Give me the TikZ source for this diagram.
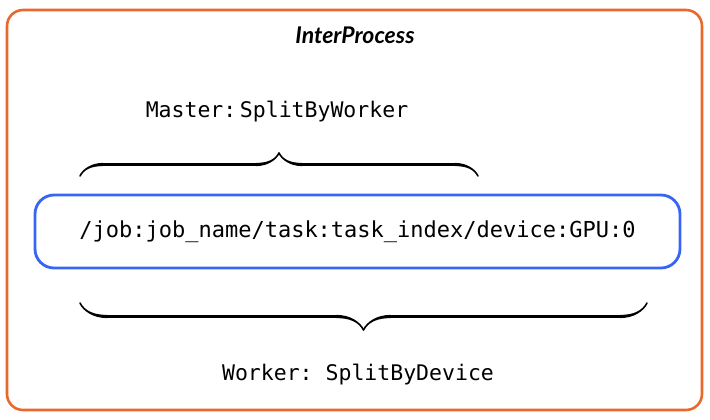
\documentclass[tikz,border=0pt]{standalone}
\usepackage{fontspec}
\setsansfont{Lato}
\setmonofont{DejaVu Sans Mono}
\usepackage{tikz}
\usetikzlibrary{positioning,decorations.pathreplacing,calligraphy,calc}
\definecolor{procedge}{HTML}{E8692B}
\definecolor{pathedge}{HTML}{3766F4}

\begin{document}
\begin{tikzpicture}[x=1pt, y=-1pt,
  frame/.style={draw=procedge, line width=2.6pt, rounded corners=16pt},
  pathbox/.style={draw=pathedge, line width=2.8pt, rounded corners=19pt,
                  minimum width=645pt, minimum height=73pt, inner sep=0pt,
                  font=\ttfamily\fontsize{22}{26}\selectfont},
  lab/.style={font=\ttfamily\fontsize{21.5}{26}\selectfont, inner sep=0pt}]
\useasboundingbox (0,0) rectangle (710,420);
\draw[frame] (7,10) rectangle (702,410);
\node[font=\sffamily\bfseries\itshape\fontsize{23}{27}\selectfont] (title) at (355,35) {InterProcess};
\node[lab] (master) at (277,112) {Master:\,SplitByWorker};
\node[pathbox] (path) at (357.5,231.5) {/job:job\_name/task:task\_index/device:GPU:0};
\node[lab] (worker) at (358,375) {Worker: SplitByDevice};
\coordinate (mL) at (80,176);
\coordinate (mR) at (478,176);
\coordinate (wL) at (80,303);
\coordinate (wR) at (647,303);
\draw[decorate, decoration={calligraphic brace, amplitude=23pt}, line width=3.2pt] (mL) -- (mR);
\draw[decorate, decoration={calligraphic brace, amplitude=27pt}, line width=3.2pt] (wR) -- (wL);
\end{tikzpicture}
\end{document}
